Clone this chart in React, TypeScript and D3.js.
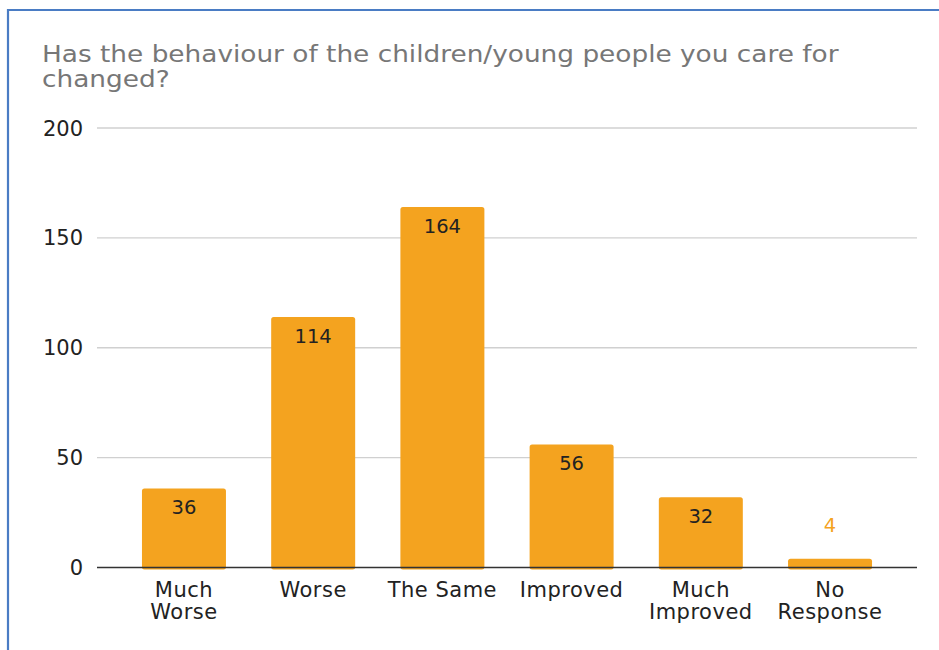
import React from "react";
import * as d3 from "d3";

const title = ["Has the behaviour of the children/young people you care for", "changed?"];
const categories = ["Much Worse", "Worse", "The Same", "Improved", "Much Improved", "No Response"];
const categoryLines = [["Much", "Worse"], ["Worse"], ["The Same"], ["Improved"], ["Much", "Improved"], ["No", "Response"]];
const values = [36, 114, 164, 56, 32, 4];
const yTicks = [0, 50, 100, 150, 200];

const W = 939;
const H = 650;
const FONT = "'DejaVu Sans', Verdana, sans-serif";
const BAR = "#f4a31f";

export default function App() {
  const x = d3.scaleBand<string>().domain(categories).range([97, 917]).paddingInner(0.35).paddingOuter(0.348);
  const y = d3.scaleLinear().domain([0, 200]).range([567.5, 128]);
  const bw = x.bandwidth();
  const sx = 1.112;
  return (
    <svg width={W} height={H} style={{ position: "absolute", left: 0, top: 0, background: "#fff" }} fontFamily={FONT}>
      <rect x={0} y={0} width={W} height={H} fill="#fff" />
      <path d={`M8,${H} L8,10 L${W},10`} fill="none" stroke="#4a7cc4" strokeWidth={2.2} />
      <g transform={`translate(42,0) scale(${sx},1)`}>
        <text x={0} y={62.5} fontSize={23.7} fill="#777">
          {title.map((t, i) => (
            <tspan key={i} x={0} dy={i === 0 ? 0 : 24.8}>{t}</tspan>
          ))}
        </text>
      </g>
      {yTicks.map((t) => (
        <g key={t}>
          {t !== 0 && <line x1={97} x2={917} y1={y(t)} y2={y(t)} stroke="#d0d0d0" strokeWidth={1.3} />}
          <text x={83} y={y(t) + 7.5} textAnchor="end" fontSize={21} fill="#222">{t}</text>
        </g>
      ))}
      {categories.map((c, i) => {
        const v = values[i];
        const bx = x(c)!;
        const top = y(v);
        const h = y(0) - top;
        const inside = h > 30;
        return (
          <g key={c}>
            <rect x={bx} y={top} width={bw} height={h + 2} rx={2.5} fill={BAR} />
            <text
              x={bx + bw / 2}
              y={inside ? top + 26 : top - 27}
              textAnchor="middle"
              fontSize={19.5}
              fill={inside ? "#222" : BAR}
            >
              {v}
            </text>
            <text x={bx + bw / 2} y={597} textAnchor="middle" fontSize={21} fill="#222" letterSpacing={0.5}>
              {categoryLines[i].map((l, j) => (
                <tspan key={j} x={bx + bw / 2} dy={j === 0 ? 0 : 22}>{l}</tspan>
              ))}
            </text>
          </g>
        );
      })}
      <line x1={97} x2={917} y1={y(0)} y2={y(0)} stroke="#333" strokeWidth={1.5} />
    </svg>
  );
}
